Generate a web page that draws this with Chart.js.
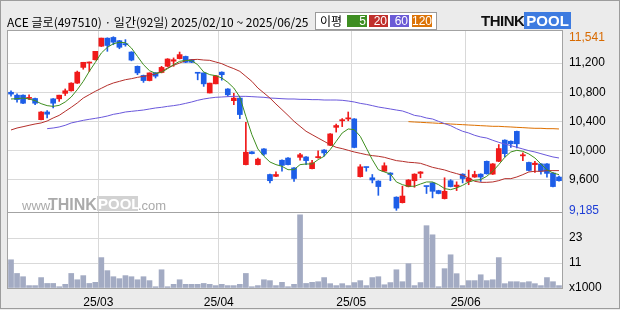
<!DOCTYPE html>
<html>
<head>
<meta charset="utf-8">
<script src="https://cdn.jsdelivr.net/npm/chart.js@4.4.1/dist/chart.umd.min.js"></script>
<style>
  html, body { margin: 0; padding: 0; background: #fff; }
  #wrap { position: relative; width: 620px; height: 310px; background: #ebebeb; overflow: hidden; }
  #chart { position: absolute; left: 0; top: 0; }
  .txt { position: absolute; font-family: 'Noto Sans CJK KR', sans-serif; font-size: 12px; line-height: 14px; white-space: nowrap; color: #000; }
  #maBox { position: absolute; left: 315px; top: 12px; width: 120px; height: 16px; background: #fff; border: 1px solid #9a9a9a; }
  .sw { position: absolute; top: 2px; height: 12px; color: #fff; font-family: 'Liberation Sans', sans-serif; font-size: 12px; line-height: 12px; text-align: right; padding-right: 1px; box-sizing: border-box; }
  #logo { position: absolute; left: 481px; top: 13px; height: 16px; font-family: 'Liberation Sans', sans-serif; font-weight: bold; font-size: 15px; line-height: 16px; }
  #logo .t { color: #111; letter-spacing: -0.5px; }
  #logo .p { color: #fff; background: #3d7be0; padding: 0 2px; }
</style>
</head>
<body>
<div id="wrap">
  <canvas id="chart" width="620" height="310"></canvas>
  <div class="txt" style="left:7px; top:15px;">ACE 글로(497510) · 일간(92일) 2025/02/10 ~ 2025/06/25</div>
  <div id="maBox">
    <span class="txt" style="left:4px; top:1px;">이평</span>
    <span class="sw" style="left:31px; width:20px; background:#3e8e22;">5</span>
    <span class="sw" style="left:53px; width:19px; background:#c0302c;">20</span>
    <span class="sw" style="left:74px; width:19px; background:#6b5bd6;">60</span>
    <span class="sw" style="left:96px; width:20px; background:#dc7408;">120</span>
  </div>
  <div id="logo"><span class="t">THINK</span><span class="p">POOL</span></div>
</div>
<script>
// trading days 2025/02/10 ~ 2025/06/25
const dates = [
  '02/10','02/11','02/12','02/13','02/14','02/17','02/18','02/19','02/20','02/21','02/24','02/25','02/26','02/27','02/28',
  '03/04','03/05','03/06','03/07','03/10','03/11','03/12','03/13','03/14','03/17','03/18','03/19','03/20','03/21','03/24','03/25','03/26','03/27','03/28','03/31',
  '04/01','04/02','04/03','04/04','04/07','04/08','04/09','04/10','04/11','04/14','04/15','04/16','04/17','04/18','04/21','04/22','04/23','04/24','04/25','04/28','04/29','04/30',
  '05/02','05/07','05/08','05/09','05/12','05/13','05/14','05/15','05/16','05/19','05/20','05/21','05/22','05/23','05/26','05/27','05/28','05/29','05/30',
  '06/02','06/04','06/05','06/09','06/10','06/11','06/12','06/13','06/16','06/17','06/18','06/19','06/20','06/23','06/24','06/25'
];
const monthTicks = { '03/04': '25/03', '04/01': '25/04', '05/02': '25/05', '06/02': '25/06' };

const openP = [10800,10760,10760,10715,10715,10425,10530,10710,10710,10785,10820,10925,11140,11200,11245,11430,11540,11550,11505,11465,
  11350,11155,11030,10960,11065,11070,11155,11225,11260,11290,11245,11070,11065,10790,10915,11075,10845,10685,10720,9810,
  9985,9810,10025,9675,9650,9870,9900,9765,9910,9915,9755,9905,10010,10075,10320,10410,10435,10435,9645,9775,
  9630,9585,9720,9695,9365,9290,9510,9590,9690,9515,9560,9455,9345,9590,9510,9680,9580,9640,9680,9855,
  9680,9855,10145,10130,10265,9930,9840,9810,9820,9820,9695,9640];
const highP = [10820,10780,10765,10765,10720,10535,10550,10715,10760,10845,10930,11090,11210,11215,11360,11541,11545,11560,11510,11520,
  11355,11160,11035,11065,11070,11155,11260,11270,11350,11295,11250,11070,11065,10925,11030,11080,10850,10785,10725,10390,
  9990,9900,10030,9680,9710,9875,9905,9770,9965,9920,9870,10000,10015,10235,10365,10440,10530,10440,9810,9775,
  9675,9590,9835,9700,9370,9515,9605,9685,9715,9515,9565,9460,9630,9605,9575,9685,9735,9720,9685,9860,
  9825,10085,10150,10135,10270,9970,9845,9855,9825,9825,9700,9655];
const lowP = [10745,10665,10645,10700,10630,10420,10450,10585,10675,10755,10815,10920,11115,11085,11240,11425,11360,11450,11395,11430,
  11230,11040,10935,10955,10995,11065,11150,11155,11255,11205,11205,10970,10880,10790,10915,10965,10745,10630,10440,9805,
  9955,9805,9935,9560,9645,9720,9805,9580,9870,9810,9750,9900,9925,10070,10255,10330,10410,10040,9640,9720,
  9560,9390,9715,9590,9185,9285,9505,9500,9630,9415,9355,9410,9340,9505,9455,9560,9535,9635,9580,9680,
  9675,9850,9915,10045,10040,9865,9725,9705,9680,9640,9505,9585];
const closeP = [10775,10700,10650,10730,10650,10530,10500,10650,10760,10820,10925,11075,11210,11210,11360,11541,11440,11485,11415,11450,
  11240,11065,10960,11065,11020,11140,11255,11245,11315,11210,11210,11060,10915,10925,11025,11040,10765,10720,10495,9980,
  9960,9885,9955,9590,9675,9800,9810,9620,9945,9865,9835,9920,9970,10230,10345,10425,10450,10045,9780,9770,
  9600,9510,9795,9675,9215,9380,9600,9680,9710,9510,9445,9415,9445,9510,9530,9620,9625,9675,9640,9685,
  9820,10030,9960,10095,10095,9945,9730,9830,9720,9690,9510,9590];

// volume, x1000
const volume = [13.0,6.7,5.2,1.1,1.1,4.8,2.1,2.1,0.6,1.7,6.7,3.8,5.7,2.1,2.6,14.0,8.0,5.2,4.3,5.7,
  5.2,3.8,5.2,3.4,0.6,8.4,0.6,1.7,3.8,1.7,1.7,1.7,2.1,1.7,1.1,1.7,1.1,1.1,1.7,6.7,
  0.6,1.1,3.8,3.4,1.1,2.6,0.6,1.7,33.7,2.1,2.6,2.9,4.8,2.0,1.1,2.0,1.1,2.5,3.4,1.1,
  4.8,5.2,1.5,2.5,8.4,2.9,11.2,1.1,2.5,28.7,24.5,0.6,8.9,15.3,6.6,1.1,3.4,3.4,6.1,3.4,
  3.8,14.0,2.0,2.9,2.9,2.5,2.9,2.0,1.1,4.8,2.9,1.1];

// moving averages
const ma5 = [10708,10712,10721,10708,10685,10644,10617,10607,10621,10667,10735,10835,10949,11086,11209,11337,11414,11464,11483,11478,
  11405,11291,11177,11095,11059,11072,11123,11177,11223,11237,11232,11177,11077,11041,11027,10995,10936,10858,10735,10471,
  10220,10024,9924,9846,9810,9787,9741,9741,9810,9819,9819,9878,9924,10015,10129,10243,10298,10288,10197,10038,
  9878,9741,9710,9682,9573,9536,9514,9514,9545,9573,9573,9536,9482,9468,9491,9527,9573,9596,9605,9650,
  9719,9810,9910,9983,10006,9992,9956,9901,9819,9741,9696,9673];
const ma20 = [10284,10311,10329,10348,10366,10380,10407,10448,10484,10539,10594,10653,10721,10767,10813,10854,10895,10927,10949,10972,
  10986,11004,11018,11031,11050,11086,11132,11168,11200,11232,11246,11250,11241,11237,11214,11191,11154,11123,11086,11018,
  10949,10858,10790,10721,10639,10562,10484,10402,10334,10266,10220,10174,10129,10083,10047,10029,10006,9983,9965,9947,
  9933,9924,9910,9887,9865,9855,9842,9837,9828,9801,9773,9755,9737,9710,9687,9664,9628,9582,9568,9568,
  9573,9591,9618,9618,9641,9673,9710,9719,9719,9728,9728,9728];
const ma60 = [null,null,null,null,null,null,10302,10311,10325,10348,10380,10398,10416,10430,10443,10457,10475,10498,10512,10530,
  10539,10548,10557,10571,10585,10594,10607,10617,10630,10648,10667,10690,10708,10721,10731,10735,10740,10744,10744,10744,
  10740,10735,10731,10721,10717,10712,10708,10708,10703,10703,10699,10699,10694,10694,10694,10690,10680,10667,10648,10635,
  10617,10598,10585,10571,10557,10544,10516,10484,10471,10448,10434,10402,10371,10343,10302,10266,10243,10211,10188,10174,
  10143,10115,10092,10070,10047,10024,10001,9983,9960,9937,9915,9901];
const ma120 = Array(66).fill(null).concat([10398,10393,10389,10384,10380,10375,10371,10366,10361,10357,10352,10348,10343,10339,
  10334,10334,10329,10325,10320,10316,10311,10307,10307,10302,10302,10298]);

const priceGrid = [9600, 10000, 10400, 10800, 11200];
const priceHi = 11541, priceLo = 9185;
const volGrid = [0, 11.5, 23];

const UP = '#f01a1a', DOWN = '#1d5ee8';
const candleColor = closeP.map((c, i) => c >= openP[i] ? UP : DOWN);
const bodies = closeP.map((c, i) => [Math.min(c, openP[i]), Math.max(c, openP[i])]);
const wicks = lowP.map((l, i) => [l, highP[i]]);

const framePlugin = {
  id: 'frame',
  beforeDraw(chart) {
    const { ctx, chartArea: a } = chart;
    ctx.save();
    ctx.fillStyle = '#fff';
    ctx.fillRect(a.left, a.top, a.right - a.left, a.bottom - a.top);
    ctx.restore();
  },
  beforeDatasetsDraw(chart) {
    // faint site watermark
    const { ctx } = chart;
    ctx.save();
    ctx.textBaseline = 'alphabetic';
    ctx.fillStyle = '#aaaaaa';
    ctx.font = '13px "Liberation Sans", sans-serif';
    ctx.fillText('www.', 22, 210);
    ctx.font = 'bold 16px "Liberation Sans", sans-serif';
    ctx.fillText('THINK', 48, 210);
    ctx.fillStyle = '#d2d2d2';
    ctx.fillRect(97, 196, 41, 15);
    ctx.fillStyle = '#fff';
    ctx.font = 'bold 15px "Liberation Sans", sans-serif';
    ctx.fillText('POOL', 98, 209);
    ctx.fillStyle = '#aaaaaa';
    ctx.font = '13px "Liberation Sans", sans-serif';
    ctx.fillText('.com', 138, 210);
    ctx.restore();
  },
  afterDraw(chart) {
    const { ctx, chartArea: a } = chart;
    const yv = chart.scales.yv;
    ctx.save();
    ctx.strokeStyle = '#a3a3a3';
    ctx.lineWidth = 1;
    ctx.strokeRect(a.left - 0.5, a.top - 0.5, a.right - a.left + 1, a.bottom - a.top + 1);
    ctx.beginPath();
    ctx.moveTo(a.left, Math.round(yv.top) + 0.5);
    ctx.lineTo(a.right, Math.round(yv.top) + 0.5);
    ctx.stroke();
    ctx.strokeStyle = '#9c9c9c';
    ctx.strokeRect(0.5, 0.5, 619, 308);
    ctx.restore();
  }
};

const gridColor = '#d9d9d9';
const maLine = (data, color) => ({
  type: 'line', data, yAxisID: 'y', borderColor: color, borderWidth: 1,
  pointRadius: 0, tension: 0, spanGaps: false
});

new Chart(document.getElementById('chart').getContext('2d'), {
  type: 'bar',
  data: {
    labels: dates,
    datasets: [
      maLine(ma5, '#3f8f20'),
      maLine(ma20, '#b52f2b'),
      maLine(ma60, '#6a58dc'),
      maLine(ma120, '#de7000'),
      { data: bodies, yAxisID: 'y', backgroundColor: candleColor, barThickness: 5, grouped: false, minBarLength: 1 },
      { data: wicks, yAxisID: 'y', backgroundColor: candleColor, barThickness: 1, grouped: false },
      { data: volume, yAxisID: 'yv', backgroundColor: '#a3abc3', barThickness: 5, grouped: false }
    ]
  },
  options: {
    responsive: false,
    animation: false,
    devicePixelRatio: 1,
    layout: { padding: { left: 8, top: 31, right: 0, bottom: 0 } },
    plugins: { legend: { display: false }, tooltip: { enabled: false } },
    scales: {
      x: {
        offset: true,
        afterFit: s => { s.height = 22; },
        grid: {
          offset: true, drawTicks: false,
          color: c => (c.tick && monthTicks[dates[c.index]]) ? gridColor : 'rgba(0,0,0,0)'
        },
        border: { display: false },
        ticks: {
          autoSkip: false, maxRotation: 0, padding: 7, labelOffset: -3,
          color: '#000', font: { family: 'Liberation Sans', size: 12 },
          callback: (v, i) => monthTicks[dates[i]] || ''
        }
      },
      y: {
        position: 'right', stack: 'panel', stackWeight: 181,
        min: 9162, max: 11638,
        afterFit: s => { s.width = 58; },
        afterBuildTicks: s => { s.ticks = [priceLo, ...priceGrid, priceHi].map(v => ({ value: v })); },
        grid: {
          drawTicks: false,
          color: c => (c.tick && (c.tick.value === priceHi || c.tick.value === priceLo)) ? 'rgba(0,0,0,0)' : gridColor
        },
        border: { display: false },
        ticks: {
          autoSkip: false,
          padding: 7,
          font: { family: 'Liberation Sans', size: 12 },
          color: c => c.tick.value === priceHi ? '#d86a00' : (c.tick.value === priceLo ? '#1f3fd6' : '#000'),
          callback: v => v.toLocaleString('en-US')
        }
      },
      yv: {
        position: 'right', stack: 'panel', stackWeight: 76,
        min: 0, max: 35,
        afterFit: s => { s.width = 58; },
        afterBuildTicks: s => { s.ticks = volGrid.map(v => ({ value: v })); },
        grid: {
          drawTicks: false,
          color: c => (c.tick && c.tick.value === 0) ? 'rgba(0,0,0,0)' : gridColor
        },
        border: { display: false },
        ticks: {
          autoSkip: false,
          padding: 7,
          font: { family: 'Liberation Sans', size: 12 },
          color: '#000',
          callback: v => v === 0 ? 'x1000' : String(Math.floor(v))
        }
      }
    }
  },
  plugins: [framePlugin]
});
</script>
</body>
</html>
